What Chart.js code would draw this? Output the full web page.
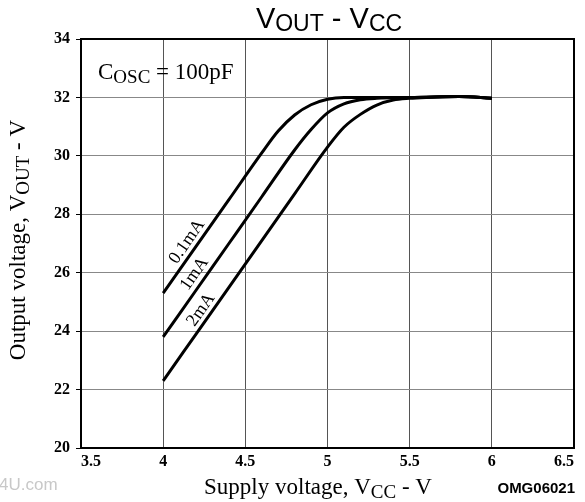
<!DOCTYPE html>
<html>
<head>
<meta charset="utf-8">
<script src="https://cdn.jsdelivr.net/npm/chart.js@4/dist/chart.umd.min.js"></script>
<style>
  html, body { margin: 0; padding: 0; background: #fff; }
  canvas { display: block; }
</style>
</head>
<body>
<canvas id="chart" width="585" height="502"></canvas>
<script>
// values
const xTicks = [3.5, 4, 4.5, 5, 5.5, 6, 6.5];
const yTicks = [20, 22, 24, 26, 28, 30, 32, 34];

const curveNames = ['0.1mA', '1mA', '2mA'];

const vcc01 = [4, 4.2, 4.4, 4.6, 4.7, 4.8, 4.9, 5.0, 5.1, 5.5, 5.8, 6.0];
const vout01 = [25.3, 26.9, 28.5, 30.1, 30.85, 31.4, 31.75, 31.94, 32.0, 32.0, 32.03, 31.97];

const vcc1 = [4, 4.2, 4.4, 4.6, 4.8, 4.9, 5.0, 5.1, 5.2, 5.3, 5.5, 5.8, 6.0];
const vout1 = [23.8, 25.4, 27.0, 28.6, 30.2, 30.9, 31.47, 31.78, 31.92, 31.97, 32.0, 32.03, 31.97];

const vcc2 = [4, 4.2, 4.4, 4.6, 4.8, 5.0, 5.1, 5.2, 5.3, 5.4, 5.5, 5.6, 5.8, 6.0];
const vout2 = [22.3, 23.9, 25.5, 27.1, 28.7, 30.3, 30.98, 31.42, 31.74, 31.91, 31.97, 32.0, 32.03, 31.97];

// where the curve names sit (data coords)
const labelVcc = [4.145, 4.19, 4.23];
const labelVout = [27.06, 25.96, 24.73];

function pts(xs, ys) {
  return xs.map((x, i) => ({ x: x, y: ys[i] }));
}

const serif = '"Liberation Serif", "Times New Roman", serif';
const sans = '"Liberation Sans", Arial, sans-serif';

// draws text made of runs, some of them subscripts
function drawRuns(ctx, runs, x, y, align) {
  let total = 0;
  runs.forEach(r => {
    ctx.font = r.font;
    total += ctx.measureText(r.t).width;
  });
  let cx = align === 'center' ? x - total / 2 : x;
  ctx.textAlign = 'left';
  ctx.textBaseline = 'alphabetic';
  runs.forEach(r => {
    ctx.font = r.font;
    ctx.fillText(r.t, cx, y + (r.dy || 0));
    cx += ctx.measureText(r.t).width;
  });
}

const framePlugin = {
  id: 'frame',
  beforeDatasetsDraw(chart) {
    const a = chart.chartArea;
    const ctx = chart.ctx;
    ctx.save();
    ctx.strokeStyle = '#000';
    ctx.lineWidth = 2;
    ctx.strokeRect(a.left, a.top, a.right - a.left, a.bottom - a.top);
    ctx.restore();
  }
};

const textPlugin = {
  id: 'texts',
  afterDraw(chart) {
    const ctx = chart.ctx;
    const xs = chart.scales.x, ys = chart.scales.y;
    ctx.save();
    ctx.fillStyle = '#000';

    // title
    drawRuns(ctx, [
      { t: 'V', font: '29px ' + sans },
      { t: 'OUT', font: '23px ' + sans, dy: 3 },
      { t: ' - V', font: '29px ' + sans },
      { t: 'CC', font: '23px ' + sans, dy: 3 }
    ], 329, 28, 'center');

    // x axis title
    drawRuns(ctx, [
      { t: 'Supply voltage, V', font: '23px ' + serif },
      { t: 'CC', font: '19px ' + serif, dy: 4 },
      { t: ' - V', font: '23px ' + serif }
    ], 318, 494, 'center');

    // y axis title
    ctx.save();
    ctx.translate(25, 240);
    ctx.rotate(-Math.PI / 2);
    drawRuns(ctx, [
      { t: 'Output voltage, V', font: '23px ' + serif },
      { t: 'OUT', font: '19px ' + serif, dy: 4 },
      { t: ' - V', font: '23px ' + serif }
    ], 0, 0, 'center');
    ctx.restore();

    // annotation
    drawRuns(ctx, [
      { t: 'C', font: '23px ' + serif },
      { t: 'OSC', font: '19px ' + serif, dy: 4 },
      { t: ' = 100pF', font: '23px ' + serif }
    ], 98, 79, 'left');

    // curve names along the lines
    ctx.font = '18px ' + serif;
    ctx.textAlign = 'center';
    ctx.textBaseline = 'middle';
    curveNames.forEach((name, i) => {
      ctx.save();
      ctx.translate(xs.getPixelForValue(labelVcc[i]), ys.getPixelForValue(labelVout[i]));
      ctx.rotate(-55 * Math.PI / 180);
      ctx.fillText(name, 0, 0);
      ctx.restore();
    });

    // figure code
    ctx.font = 'bold 15px ' + sans;
    ctx.textAlign = 'right';
    ctx.textBaseline = 'alphabetic';
    ctx.fillText('OMG06021', 575, 493);

    // faint watermark
    ctx.fillStyle = '#c8c8c8';
    ctx.font = '17px ' + sans;
    ctx.textAlign = 'left';
    ctx.fillText('4U.com', -1, 490);

    ctx.restore();
  }
};

const lineStyle = {
  borderColor: '#000',
  borderWidth: 3,
  pointRadius: 0,
  fill: false,
  cubicInterpolationMode: 'monotone'
};

new Chart(document.getElementById('chart'), {
  type: 'line',
  data: {
    datasets: [
      Object.assign({ label: curveNames[0], data: pts(vcc01, vout01) }, lineStyle),
      Object.assign({ label: curveNames[1], data: pts(vcc1, vout1) }, lineStyle),
      Object.assign({ label: curveNames[2], data: pts(vcc2, vout2) }, lineStyle)
    ]
  },
  options: {
    responsive: false,
    animation: false,
    layout: { padding: { top: 39, right: 11, left: 0, bottom: 0 } },
    plugins: {
      legend: { display: false },
      tooltip: { enabled: false }
    },
    scales: {
      x: {
        type: 'linear',
        min: 3.5,
        max: 6.5,
        afterBuildTicks: s => { s.ticks = xTicks.map(v => ({ value: v })); },
        afterFit: s => { s.height = 54; },
        grid: { color: '#555', lineWidth: 1, drawTicks: false },
        border: { display: false },
        ticks: {
          align: 'inner',
          padding: 4,
          maxRotation: 0,
          color: '#000',
          font: { family: serif, size: 16, weight: 'bold' },
          callback: v => String(v)
        }
      },
      y: {
        min: 20,
        max: 34,
        afterBuildTicks: s => { s.ticks = yTicks.map(v => ({ value: v })); },
        afterFit: s => { s.width = 81; },
        grid: { color: '#888', lineWidth: 1, tickLength: 5, tickColor: '#000' },
        border: { display: false },
        ticks: {
          padding: 6,
          color: '#000',
          font: { family: serif, size: 16, weight: 'bold' },
          callback: v => String(v)
        }
      }
    }
  },
  plugins: [framePlugin, textPlugin]
});
</script>
</body>
</html>
